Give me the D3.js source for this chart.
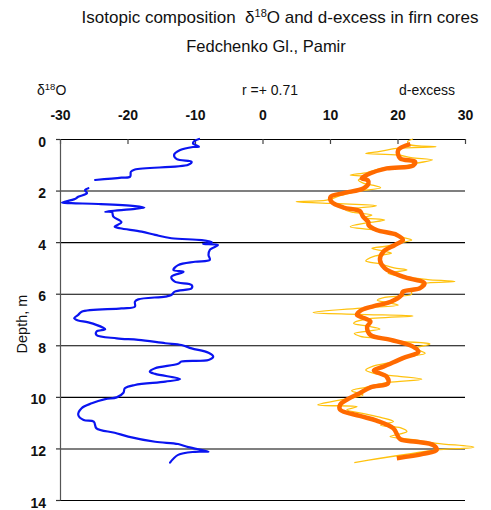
<!DOCTYPE html>
<html>
<head>
<meta charset="utf-8">
<script src="https://cdn.jsdelivr.net/npm/d3@7/dist/d3.min.js"></script>
<style>
  html, body { margin: 0; padding: 0; background: #fff; }
  svg { display: block; font-family: "Liberation Sans", Arial, sans-serif; }
  text { white-space: pre; }
</style>
</head>
<body>
<svg id="chart" width="491" height="510"></svg>
<script>
// δ18O profile (‰) against depth (m); null marks a missing interval
const o18Depth = [0.00, 0.08, 0.17, 0.30, 0.31, 0.43, 0.62, 0.78, 0.88, 1.00, 1.18, 1.27, 1.46, 1.50, 1.59, 1.75,
  1.91, 1.98, 2.10, 2.24, 2.33, 2.47, 2.49, 2.52, 2.60, 2.66, 2.71, 2.82, 2.84, 3.01, 3.23, 3.40, 3.46, 3.59, 3.72,
  3.85, 3.92, 4.00, 4.07, 4.11, 4.30, 4.50, 4.69, 4.76, 4.89, 5.08, 5.15, 5.34, 5.53, 5.66, 5.79, 5.92, 6.05, 6.11,
  6.22, 6.31, 6.50, 6.57, 6.70, 6.82, 6.95, 7.04, 7.11, 7.32, 7.38, 7.47, 7.60, 7.73, 7.79, 7.92, 7.99, 8.12, 8.29,
  8.44, 8.57, 8.63, 8.72, 8.89, 9.02, 9.11, 9.31, 9.41, 9.54, 9.67, 9.84, 10.02, 10.09, 10.25, 10.44, 10.70, 10.90,
  10.96, 11.22, 11.39, 11.54, 11.74, 11.83, 11.95, 12.12, 12.13, 12.25, 12.55];
const o18Value = [-9.4, -10.1, -10.3, -9.4, -10.3, -12.2, -13.1, -12.7, -10.5, -11.0, -18.9, -19.5, -19.6, -20.9, -24.8, null,
  -25.8, -26.3, -26.0, -27.3, -27.8, -29.7, -28.3, -24.3, -18.9, -17.5, -18.9, -23.3, -22.3, -22.1, -20.9, -21.9, -21.1, -17.9, -15.9,
  -13.5, -9.0, -7.5, -8.8, -6.6, -7.8, -8.0, -7.8, -10.0, -12.5, -13.2, -11.7, -13.5, -13.0, -10.5, -10.5, -13.0, -13.5, -14.4,
  -18.4, -18.9, -18.9, -20.9, -26.8, -27.3, -27.9, -27.3, -25.8, -23.6, -23.3, -24.6, -24.6, -21.6, -18.4, -14.4, -12.0, -10.5, -8.0,
  -7.3, -8.0, -12.0, -12.5, -15.9, -16.7, -15.9, -12.2, -14.4, -18.9, -20.4, -20.6, -21.6, -23.3, -25.3, -26.8, -27.3, -26.5,
  -25.0, -24.6, -21.9, -19.9, -15.9, -12.5, -11.0, -8.0, -10.0, -12.5, -13.7];

// d-excess, individual samples
const dexRawDepth = [0.00, 0.10, 0.22, 0.30, 0.36, 0.50, 0.56, 0.62, 0.72, 0.81, 0.94, 1.05, 1.15, 1.30, 1.40, 1.46, 1.59,
  1.72, 1.80, 1.89, 2.04, 2.20, 2.37, 2.43, 2.50, 2.59, 2.75, 2.85, 2.95, 3.05, 3.14, 3.25, 3.40, 3.53, 3.70, 3.80, 3.92,
  4.05, 4.15, 4.24, 4.35, 4.43, 4.55, 4.73, 4.85, 5.00, 5.08, 5.21, 5.35, 5.45, 5.53, 5.63, 5.73, 5.85, 6.02, 6.14, 6.25,
  6.44, 6.55, 6.73, 6.80, 6.86, 7.00, 7.15, 7.25, 7.37, 7.54, 7.65, 7.73, 7.85, 7.95, 8.12, 8.31, 8.45, 8.64, 8.80, 8.96,
  9.09, 9.20, 9.32, 9.45, 9.63, 9.76, 9.93, 10.10, 10.31, 10.38, 10.50, 10.65, 10.80, 10.96, 11.10, 11.20, 11.35, 11.54,
  11.65, 11.80, 11.95, 12.06, 12.20, 12.40, 12.55];
const dexRawValue = [22.3, 21.5, 21.8, 25.7, 19.9, 17.0, 15.3, 20.1, 22.0, 25.2, 22.8, 21.0, 17.5, 15.5, 13.0, 15.3, 14.2,
  15.0, 16.5, 17.5, 13.9, 11.5, 9.5, 5.0, 10.5, 16.9, 12.3, 13.5, 16.2, 15.0, 18.1, 15.5, 13.0, 16.5, 19.5, 20.5, 22.1,
  20.0, 18.5, 16.2, 18.0, 19.1, 16.5, 15.3, 17.5, 19.5, 21.4, 18.6, 21.0, 24.5, 28.5, 23.5, 23.8, 22.0, 22.1, 18.1, 17.0,
  20.1, 15.0, 7.5, 14.0, 22.3, 15.0, 13.5, 15.5, 17.4, 13.6, 14.5, 16.9, 20.5, 24.8, 22.6, 24.1, 21.5, 19.4, 16.5, 15.3,
  16.5, 20.0, 23.6, 18.5, 15.3, 13.2, 14.9, 12.0, 8.2, 14.0, 12.5, 15.0, 17.5, 19.4, 17.5, 20.5, 21.4, 18.9,
  22.0, 25.8, 31.3, 25.8, 22.0, 17.0, 13.6];

// d-excess, running mean
const dexSmoothDepth = [0.20, 0.43, 0.75, 0.88, 1.03, 1.14, 1.33, 1.52, 1.60, 1.72, 1.91, 2.10, 2.24, 2.43, 2.66, 2.79,
  3.01, 3.23, 3.33, 3.53, 3.72, 3.92, 4.11, 4.37, 4.69, 5.01, 5.34, 5.60, 5.79, 5.92, 6.05, 6.31, 6.48, 6.63, 6.82, 6.91,
  7.08, 7.28, 7.60, 7.79, 8.05, 8.25, 8.50, 8.83, 8.98, 9.22, 9.47, 9.63, 9.86, 10.05, 10.31, 10.50, 10.74, 10.92,
  11.22, 11.64, 11.74, 11.87, 12.06, 12.21, 12.38];
const dexSmoothValue = [21.9, 20.1, 20.4, 22.6, 22.3, 18.4, 16.0, 14.7, 15.6, 15.7, 15.0, 12.0, 10.1, 10.2, 12.0, 14.4,
  14.9, 15.7, 15.7, 16.9, 19.9, 20.8, 19.6, 17.9, 17.4, 18.1, 20.8, 24.0, 23.3, 20.8, 20.6, 19.0, 16.5, 14.7, 14.0, 14.7,
  16.0, 15.5, 16.0, 19.0, 22.3, 23.1, 20.8, 17.9, 16.5, 18.4, 18.6, 16.0, 14.4, 12.9, 11.5, 11.5, 14.4, 16.9,
  19.4, 20.4, 22.8, 25.3, 25.8, 23.8, 19.9];

const xTicks = [-30, -20, -10, 0, 10, 20, 30];
const depthTicks = [0, 2, 4, 6, 8, 10, 12, 14];

const svg = d3.select("#chart");
const x = d3.scaleLinear().domain([-30, 30]).range([60, 465]);
const y = d3.scaleLinear().domain([0, 14]).range([139, 500]);

// titles
svg.append("text").attr("x", 280).attr("y", 23).attr("text-anchor", "middle")
  .attr("font-size", 17).attr("fill", "#111")
  .call(t => {
    t.append("tspan").text("Isotopic composition  δ");
    t.append("tspan").attr("font-size", 11).attr("dy", -6).text("18");
    t.append("tspan").attr("dy", 6).text("O and d-excess in firn cores");
  });
svg.append("text").attr("x", 266).attr("y", 52).attr("text-anchor", "middle")
  .attr("font-size", 16.5).attr("fill", "#111").text("Fedchenko Gl., Pamir");

// axis captions
svg.append("text").attr("x", 37).attr("y", 95).attr("font-size", 14).attr("fill", "#111")
  .call(t => {
    t.append("tspan").text("δ");
    t.append("tspan").attr("font-size", 9.5).attr("dy", -5).text("18");
    t.append("tspan").attr("dy", 5).text("O");
  });
svg.append("text").attr("x", 270).attr("y", 95).attr("text-anchor", "middle")
  .attr("font-size", 14).attr("fill", "#111").text("r =+ 0.71");
svg.append("text").attr("x", 427).attr("y", 95).attr("text-anchor", "middle")
  .attr("font-size", 14).attr("fill", "#111").text("d-excess");
svg.append("text").attr("transform", "translate(27,324) rotate(-90)")
  .attr("text-anchor", "middle").attr("font-size", 14.5).attr("fill", "#111").text("Depth, m");

// horizontal grid lines
svg.append("g").attr("transform", "translate(60,0)")
  .call(d3.axisRight(y).tickValues(depthTicks.slice(1)).tickSize(405).tickFormat(""))
  .call(g => g.select(".domain").remove())
  .call(g => g.selectAll("line").attr("stroke", "#000").attr("stroke-width", 1.1));

// top axis
svg.append("g").attr("transform", `translate(0,${y(0)})`)
  .call(d3.axisTop(x).tickValues(xTicks).tickSize(-5).tickPadding(19).tickSizeOuter(0))
  .call(g => g.select(".domain").attr("stroke", "#000").attr("stroke-width", 1.2))
  .call(g => g.selectAll("line").attr("stroke", "#444").attr("stroke-width", 1.2))
  .call(g => g.selectAll("text").attr("font-size", 14).attr("font-weight", "bold")
    .attr("font-family", "Liberation Sans, Arial, sans-serif").attr("fill", "#111")
    .text(d => d < 0 ? "-" + Math.abs(d) : d));

// left axis
svg.append("g").attr("transform", `translate(${x(-30)},0)`)
  .call(d3.axisLeft(y).tickValues(depthTicks).tickSize(4).tickPadding(10).tickSizeOuter(0))
  .call(g => g.select(".domain").attr("stroke", "#555").attr("stroke-width", 1.2))
  .call(g => g.selectAll("line").attr("stroke", "#333").attr("stroke-width", 1.2))
  .call(g => g.selectAll("text").attr("font-size", 14).attr("font-weight", "bold")
    .attr("font-family", "Liberation Sans, Arial, sans-serif").attr("fill", "#111").attr("dy", "0.5em"));

// δ18O curve
const o18 = o18Depth.map((d, i) => ({ d, v: o18Value[i] }));
svg.append("path").datum(o18)
  .attr("fill", "none").attr("stroke", "#0a14f0").attr("stroke-width", 2.2)
  .attr("stroke-linejoin", "round").attr("stroke-linecap", "round")
  .attr("d", d3.line().defined(p => p.v !== null).x(p => x(p.v)).y(p => y(p.d)).curve(d3.curveCatmullRom));

// d-excess samples
const dexRaw = dexRawDepth.map((d, i) => ({ d, v: dexRawValue[i] }));
svg.append("path").datum(dexRaw)
  .attr("fill", "none").attr("stroke", "#ffc20e").attr("stroke-width", 1.3)
  .attr("stroke-linejoin", "round")
  .attr("d", d3.line().x(p => x(p.v)).y(p => y(p.d)).curve(d3.curveCatmullRom));

// d-excess running mean
const dexSmooth = dexSmoothDepth.map((d, i) => ({ d, v: dexSmoothValue[i] }));
svg.append("path").datum(dexSmooth)
  .attr("fill", "none").attr("stroke", "#ff6a00").attr("stroke-width", 4.5)
  .attr("stroke-linejoin", "round").attr("stroke-linecap", "butt")
  .attr("d", d3.line().x(p => x(p.v)).y(p => y(p.d)).curve(d3.curveCatmullRom));
</script>
</body>
</html>
